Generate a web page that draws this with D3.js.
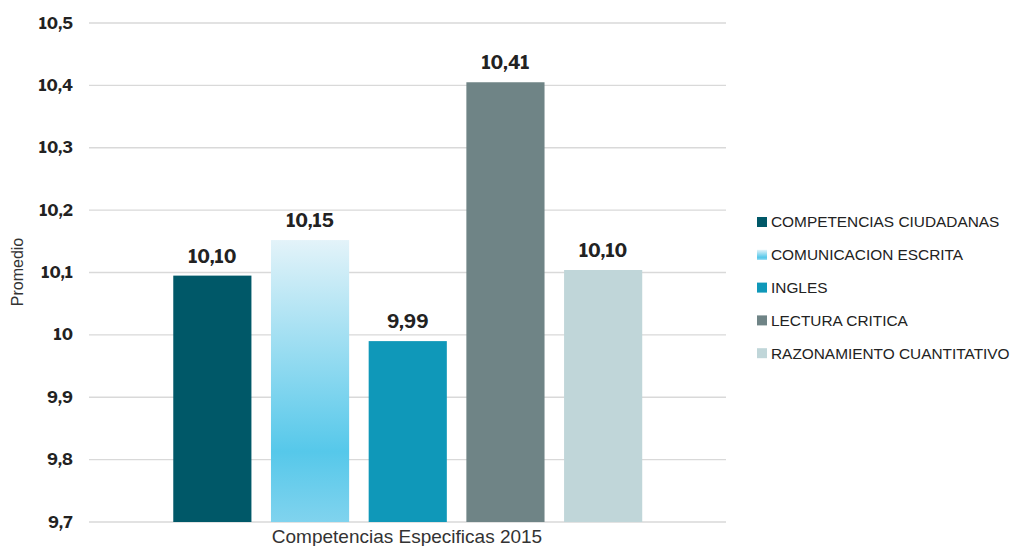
<!DOCTYPE html>
<html><head><meta charset="utf-8">
<script src="https://cdn.jsdelivr.net/npm/d3@7"></script>
<style>body{margin:0;background:#fff;} svg{display:block;font-family:"Libre Franklin","Roboto","Liberation Sans",sans-serif;}</style>
</head><body><svg id="c" width="1011" height="546"></svg>
<script>
const categories = ["COMPETENCIAS CIUDADANAS","COMUNICACION ESCRITA","INGLES","LECTURA CRITICA","RAZONAMIENTO CUANTITATIVO"];
const values = [10.095, 10.152, 9.99, 10.405, 10.104];
const valueLabels = ["10,10","10,15","9,99","10,41","10,10"];
const colors = ["#005868","url(#grad)","#0f98b9","#6f8486","#c0d6d9"];
const yTicks = [9.7,9.8,9.9,10,10.1,10.2,10.3,10.4,10.5];
const groupLabel = "Competencias Especificas 2015";

const svg = d3.select("#c");
const defs = svg.append("defs");
const g = defs.append("linearGradient").attr("id","grad").attr("x1",0).attr("y1",0).attr("x2",0).attr("y2",1);
g.append("stop").attr("offset","0%").attr("stop-color","#e3f3f9");
g.append("stop").attr("offset","75%").attr("stop-color","#56c8ea");
g.append("stop").attr("offset","100%").attr("stop-color","#80d3ee");

const pLeft = 89, pRight = 726, pTop = 23, pBottom = 522;
const y = d3.scaleLinear().domain([9.7,10.5]).range([pBottom, pTop]);
const x = d3.scaleBand().domain(categories).range([163.5, 652]).paddingInner(0.2).paddingOuter(0.1);

// gridlines
svg.append("g").selectAll("line").data(yTicks).join("line")
  .attr("x1",pLeft).attr("x2",pRight).attr("y1",d=>y(d)).attr("y2",d=>y(d))
  .attr("stroke","#d9d9d9").attr("stroke-width",1.3);

// y tick labels
const fmt = d => d3.format(".1f")(d).replace(".",",");
svg.append("g").selectAll("text").data(yTicks).join("text")
  .attr("x",73).attr("y",d=>y(d)).attr("dy","0.35em").attr("text-anchor","end")
  .attr("font-size",16).attr("font-weight","bold").attr("fill","#222")
  .text(d=> d===10 ? "10" : fmt(d));

// bars
svg.append("g").selectAll("rect").data(categories).join("rect")
  .attr("x",d=>x(d)).attr("width",x.bandwidth())
  .attr("y",(d,i)=>y(values[i])).attr("height",(d,i)=>pBottom - y(values[i]))
  .attr("fill",(d,i)=>colors[i]);

// value labels
svg.append("g").selectAll("text").data(categories).join("text")
  .attr("x",d=>x(d)+x.bandwidth()/2).attr("y",(d,i)=>y(values[i])-13)
  .attr("text-anchor","middle").attr("font-size",18).attr("font-weight","bold").attr("fill","#222")
  .text((d,i)=>valueLabels[i]);

// x label
svg.append("text").attr("x",407).attr("y",543).attr("text-anchor","middle")
  .attr("font-family","Liberation Sans, Arial, sans-serif")
  .attr("font-size",19).attr("fill","#333").text(groupLabel);

// y title
svg.append("text").attr("transform","translate(23,272) rotate(-90)").attr("text-anchor","middle")
  .attr("font-family","Liberation Sans, Arial, sans-serif")
  .attr("font-size",16).attr("fill","#333").text("Promedio");

// legend
const lg = svg.append("g").selectAll("g").data(categories).join("g")
  .attr("transform",(d,i)=>`translate(757,${222 + i*32.8})`);
lg.append("rect").attr("x",0).attr("y",-5).attr("width",10).attr("height",10).attr("fill",(d,i)=>colors[i]);
lg.append("text").attr("x",14).attr("y",0).attr("dy","0.35em")
  .attr("font-family","Liberation Sans, Arial, sans-serif")
  .attr("font-size",15.4).attr("fill","#222").text(d=>d);
</script></body></html>
